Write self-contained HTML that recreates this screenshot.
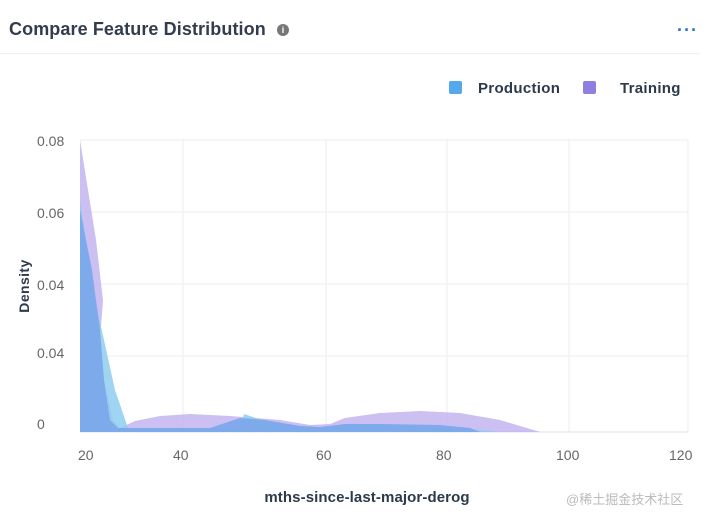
<!DOCTYPE html>
<html><head><style>
body{margin:0;width:716px;height:525px;background:#fff;font-family:"Liberation Sans",sans-serif;overflow:hidden;position:relative}
.t{position:absolute;color:#2d3a4b}
</style></head><body>
<div class="t" style="left:9px;top:19px;font-size:18px;font-weight:bold;color:#333c4e;letter-spacing:0.1px">Compare Feature Distribution</div>
<div style="position:absolute;left:277px;top:24px;width:12px;height:12px;border-radius:50%;background:#777;color:#fff;font-size:9px;text-align:center;line-height:12px;font-weight:bold">i</div>
<div style="position:absolute;left:677px;top:20px;color:#2f6fd6;font-size:18px;font-weight:bold;letter-spacing:1px">···</div>
<div style="position:absolute;left:0;top:53px;width:700px;height:1px;background:#eef0f3"></div>
<div style="position:absolute;left:449px;top:81px;width:13px;height:13px;border-radius:2px;background:#55a8ee"></div>
<div class="t" style="left:478px;top:80px;font-size:15px;font-weight:bold;letter-spacing:0.3px">Production</div>
<div style="position:absolute;left:583px;top:81px;width:13px;height:13px;border-radius:2px;background:#8f7fe0"></div>
<div class="t" style="left:620px;top:80px;font-size:15px;font-weight:bold;letter-spacing:0.3px">Training</div>
<svg width="716" height="525" style="position:absolute;left:0;top:0">
<g stroke="#eceef2" stroke-width="1">
<line x1="80" y1="140" x2="688" y2="140"/><line x1="80" y1="212" x2="688" y2="212"/>
<line x1="80" y1="284" x2="688" y2="284"/><line x1="80" y1="356" x2="688" y2="356"/>
<line x1="183" y1="140" x2="183" y2="432"/><line x1="326" y1="140" x2="326" y2="432"/>
<line x1="447" y1="140" x2="447" y2="432"/><line x1="569" y1="140" x2="569" y2="432"/>
<line x1="688" y1="140" x2="688" y2="432"/>
</g>
<line x1="80" y1="432" x2="688" y2="432" stroke="#dde0e6"/>
<path d="M80,140 L96,240 L103,300 L100,340 L104,380 L113,420 L120,428 L135,421 L160,416 L190,414 L230,416 L280,420 L310,425 L330,424 L345,418 L380,413 L420,411 L460,413 L500,420 L540,432 L80,432Z" fill="#bba9ee" fill-opacity="0.75"/>
<path d="M80,200 L95,300 L104,340 L115,390 L128,428 L240,428 L244,414 L262,420 L300,426 L320,428 L340,425 L360,424 L420,426 L480,430 L500,432 L640,432 L80,432Z" fill="#8ecdf0" fill-opacity="0.85"/>
<path d="M80,210 L92,270 L100,330 L104,380 L110,420 L118,428 L210,428 L240,418 L265,420 L300,426 L320,427 L345,424 L380,424 L440,425 L470,428 L480,432 L80,432Z" fill="#7aa6ea" fill-opacity="0.9"/>
<g font-size="14" fill="#666" font-family="Liberation Sans,sans-serif">
<text x="37" y="146">0.08</text><text x="37" y="218">0.06</text><text x="37" y="290">0.04</text><text x="37" y="358">0.04</text><text x="37" y="429">0</text>
<text x="78" y="460">20</text><text x="173" y="460">40</text><text x="316" y="460">60</text><text x="436" y="460">80</text><text x="556" y="460">100</text><text x="669" y="460">120</text>
</g>
<text transform="translate(29,286) rotate(-90)" text-anchor="middle" font-size="14" font-weight="bold" fill="#2d3a4b" font-family="Liberation Sans,sans-serif" letter-spacing="0.4">Density</text>
<text x="367" y="502" text-anchor="middle" font-size="15" font-weight="bold" fill="#2d3a4b" font-family="Liberation Sans,sans-serif" letter-spacing="0.1">mths-since-last-major-derog</text>
<text x="566" y="504" font-size="13" fill="#bbb" font-family="Liberation Sans,Noto Sans CJK SC,sans-serif">@稀土掘金技术社区</text>
</svg>
</body></html>
